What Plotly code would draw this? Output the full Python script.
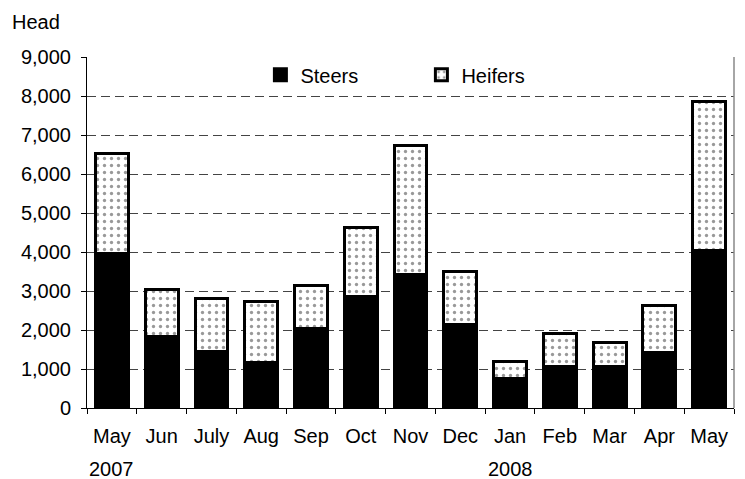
import plotly.graph_objects as go

months = ["May", "Jun", "July", "Aug", "Sep", "Oct", "Nov", "Dec", "Jan", "Feb", "Mar", "Apr", "May"]
categories = ["May 2007", "Jun 2007", "Jul 2007", "Aug 2007", "Sep 2007", "Oct 2007", "Nov 2007",
              "Dec 2007", "Jan 2008", "Feb 2008", "Mar 2008", "Apr 2008", "May 2008"]
steers = [3950, 1830, 1440, 1160, 2030, 2850, 3420, 2150, 750, 1060, 1060, 1420, 4030]
heifers = [2580, 1200, 1380, 1560, 1100, 1770, 3300, 1340, 450, 840, 630, 1200, 3820]
year_labels = [("May 2007", "2007"), ("Jan 2008", "2008")]
y_ticks = [0, 1000, 2000, 3000, 4000, 5000, 6000, 7000, 8000, 9000]

FONT = "Arial, Liberation Sans, sans-serif"

fig = go.Figure()
fig.add_trace(go.Bar(
    x=categories, y=steers, name="Steers",
    marker=dict(color="black", line=dict(color="black", width=3)),
))
fig.add_trace(go.Bar(
    x=categories, y=heifers, name="Heifers",
    marker=dict(color="white", line=dict(color="black", width=3),
                pattern=dict(shape=".", fgcolor="#333333", bgcolor="white", size=7, solidity=0.18)),
))

fig.update_layout(
    barmode="stack",
    bargap=0.34,
    width=745, height=479,
    margin=dict(l=87, r=11, t=57, b=71),
    paper_bgcolor="white", plot_bgcolor="white",
    font=dict(family=FONT, size=20, color="black"),
    showlegend=True,
    legend=dict(orientation="h", x=0.268, y=1.005, xanchor="left", yanchor="top",
                bgcolor="rgba(0,0,0,0)", font=dict(size=20),
                entrywidth=116, entrywidthmode="pixels", traceorder="normal"),
)
fig.update_xaxes(
    type="category", tickvals=categories, ticktext=months,
    showline=True, linecolor="black", linewidth=1,
    ticks="outside", tickson="boundaries", ticklen=5, tickcolor="black",
    showgrid=False, tickfont=dict(size=20), ticklabelstandoff=10,
)
fig.update_yaxes(
    range=[0, 9000], tickvals=y_ticks, tickformat=",",
    showline=True, linecolor="black", linewidth=1,
    ticks="outside", ticklen=5, tickcolor="black",
    showgrid=True, gridcolor="#444444", gridwidth=1, griddash="9px,5px",
    zeroline=False, tickfont=dict(size=20), ticklabelstandoff=6,
)
# right border of plot area
fig.add_shape(type="line", xref="paper", yref="paper", x0=1, x1=1, y0=0, y1=1,
              line=dict(color="#888888", width=1.5), layer="above")
for cat, txt in year_labels:
    fig.add_annotation(x=cat, xref="x", y=-0.174, yref="paper", text=txt,
                       showarrow=False, font=dict(size=20), yanchor="middle")
fig.add_annotation(x=-0.119, xref="paper", y=1.10, yref="paper", text="Head",
                   showarrow=False, xanchor="left", yanchor="middle", font=dict(size=20))

fig.write_html("out.html", config={"displayModeBar": False},
               post_script="document.body.style.margin='0';document.body.style.overflow='hidden';")
